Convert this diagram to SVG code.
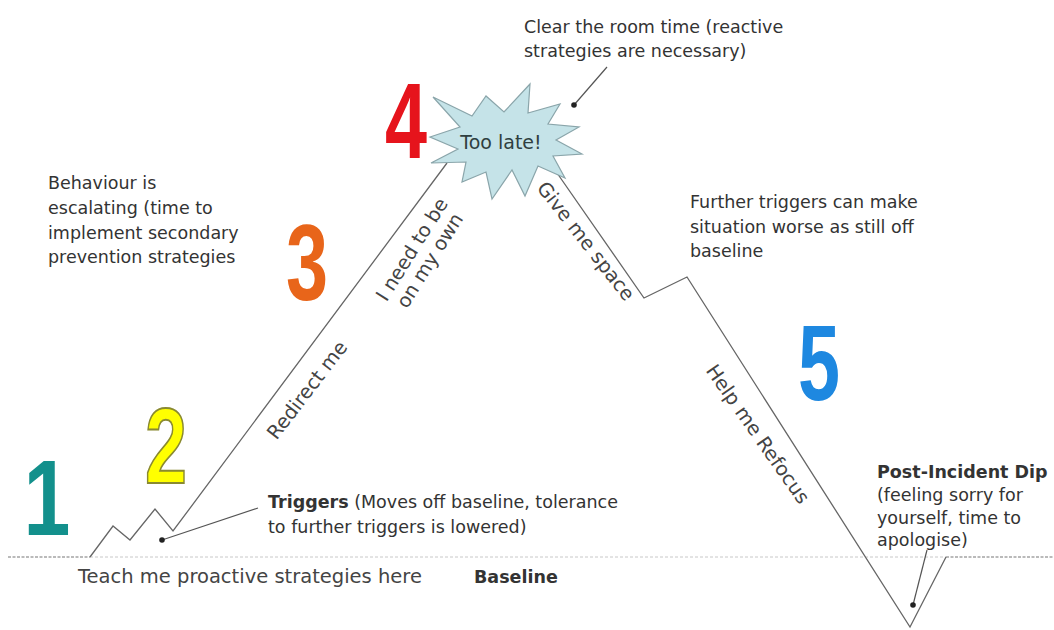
<svg xmlns="http://www.w3.org/2000/svg" width="1054" height="630" viewBox="0 0 1054 630">
<style>
.t{font-family:"DejaVu Sans","Liberation Sans",sans-serif;font-size:17.5px;fill:#333}
.b{font-weight:bold}
.r{font-family:"DejaVu Sans","Liberation Sans",sans-serif;font-size:19.5px;fill:#444;text-anchor:middle}
.num{font-family:"Liberation Sans","DejaVu Sans",sans-serif;font-weight:bold;font-size:108px;text-anchor:middle}
.ln{fill:none;stroke:#666;stroke-width:1.3;stroke-linejoin:miter}
.ptr{fill:none;stroke:#555;stroke-width:1.2}
.dot{fill:#222}
</style>
<rect width="1054" height="630" fill="#fff"/>
<g id="connectors">
<line x1="90" y1="557" x2="946" y2="557" stroke="#c8c8c8" stroke-width="1" stroke-dasharray="3 2"/>
<line x1="8" y1="557" x2="90" y2="557" stroke="#777" stroke-width="1.2" stroke-dasharray="3 1.5"/>
<line x1="946" y1="557" x2="1054" y2="557" stroke="#777" stroke-width="1.2" stroke-dasharray="3 1.5"/>
<path class="ln" d="M90,557 L113,526 L130,540 L155,509 L173,531 L447,163"/>
<path class="ln" d="M548,160 L644,298 L687,277 L910,627 L946,557"/>
<line class="ptr" x1="607" y1="67" x2="574" y2="105"/>
<circle class="dot" cx="574" cy="105" r="2.8"/>
<line class="ptr" x1="258" y1="508" x2="162" y2="540"/>
<circle class="dot" cx="162" cy="540" r="2.8"/>
<line class="ptr" x1="927" y1="550" x2="913" y2="605"/>
<circle class="dot" cx="913" cy="605" r="2.8"/>
</g>
<g id="star">
<path d="M433,97 L472,116 L486,96 L504,112 L530,84 L528,113 L560,104 L548,124 L579,127 L556,140 L582,154 L553,156 L565,178 L538,166 L525,196 L512,170 L492,199 L486,172 L462,182 L466,162 L431,163 L458,149 L430,137 L460,127 Z" fill="#c5e3e8" stroke="#8aa5aa" stroke-width="1.2"/>
<text class="t" x="501" y="149" text-anchor="middle" style="font-size:19px;fill:#2f3f40">Too late!</text>
</g>
<g id="n1"><text class="num" transform="translate(47,535) scale(0.78,1)" fill="#13908c">1</text></g>
<g id="n2"><text class="num" transform="translate(166,483) scale(0.7,1)" fill="#ffff00" stroke="#8a8a30" stroke-width="2">2</text></g>
<g id="n3"><text class="num" transform="translate(307,300) scale(0.7,1)" fill="#e8651a">3</text></g>
<g id="n4"><text class="num" transform="translate(406,158) scale(0.7,1)" fill="#e6141c">4</text></g>
<g id="n5"><text class="num" transform="translate(819,400) scale(0.7,1)" fill="#1e88e0">5</text></g>
<g id="lbl-redirect"><text class="r" transform="translate(307,390) rotate(-52.5)" dy="0.35em">Redirect me</text></g>
<g id="lbl-own"><text class="r" transform="translate(421,255) rotate(-58)"><tspan x="0" y="-4">I need to be</tspan><tspan x="0" y="17">on my own</tspan></text></g>
<g id="lbl-space"><text class="r" transform="translate(586,241) rotate(52)" dy="0.35em">Give me space</text></g>
<g id="lbl-refocus"><text class="r" transform="translate(758,434) rotate(55)" dy="0.35em">Help me Refocus</text></g>
<g id="note-clear"><text class="t"><tspan x="524" y="33">Clear the room time (reactive</tspan><tspan x="524" y="57">strategies are necessary)</tspan></text></g>
<g id="note-behaviour"><text class="t"><tspan x="48" y="189">Behaviour is</tspan><tspan x="48" y="214">escalating (time to</tspan><tspan x="48" y="239">implement secondary</tspan><tspan x="48" y="263">prevention strategies</tspan></text></g>
<g id="note-further"><text class="t"><tspan x="690" y="208">Further triggers can make</tspan><tspan x="690" y="233">situation worse as still off</tspan><tspan x="690" y="257">baseline</tspan></text></g>
<g id="note-triggers"><text class="t"><tspan x="268" y="508"><tspan class="b">Triggers</tspan> (Moves off baseline, tolerance</tspan><tspan x="268" y="533">to further triggers is lowered)</tspan></text></g>
<g id="note-teach"><text class="t" x="78" y="583" style="font-size:19.5px;fill:#444">Teach me proactive strategies here</text></g>
<g id="note-baseline"><text class="t b" x="474" y="583">Baseline</text></g>
<g id="note-dip"><text class="t"><tspan class="b" x="877" y="478">Post-Incident Dip</tspan><tspan x="877" y="501">(feeling sorry for</tspan><tspan x="877" y="524">yourself, time to</tspan><tspan x="877" y="546">apologise)</tspan></text></g>
</svg>
